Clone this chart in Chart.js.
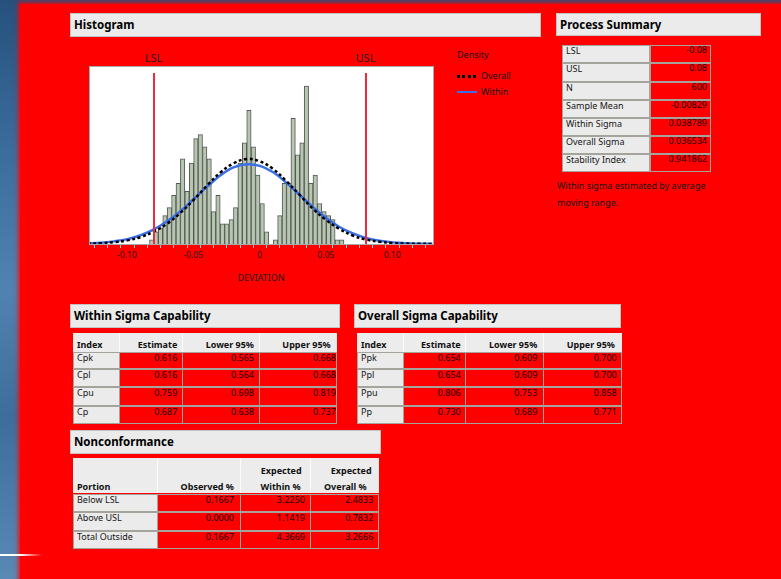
<!DOCTYPE html>
<html>
<head>
<meta charset="utf-8">
<title>Process Capability</title>
<script src="https://cdn.jsdelivr.net/npm/chart.js@4.4.1/dist/chart.umd.min.js"></script>
<style>
  * { box-sizing: border-box; }
  body {
    margin: 0; width: 781px; height: 579px; overflow: hidden; position: relative;
    font-family: "Noto Sans", sans-serif; color: #111;
    background: linear-gradient(180deg, #27507d 0%, #3b6b9b 25%, #5282b1 50%, #3f6d9b 72%, #5a89b6 100%);
  }
  #sheet { position: absolute; left: 20px; top: 4px; width: 770px; height: 580px; background: #ff0000;
           box-shadow: 0 0 4px 2px rgba(255, 0, 0, .8); }
  #flash { position: absolute; left: 0; top: 554px; width: 42px; height: 2px;
           background: linear-gradient(90deg, #fff 0%, #fff 50%, rgba(255,255,255,0) 100%); }
  .abs { position: absolute; }
  .outline { background: #ebebeb; border: 1px solid #c3c3c3; font-weight: bold; font-size: 11.5px;
             line-height: 21px; padding-left: 3px; color: #000; white-space: nowrap; }
  .lab { background: #ebebeb; border: 1px solid #a4a49c; }
  .val { border: 1px solid #a4a49c; }
  .txt { font-size: 9px; line-height: 10px; white-space: nowrap; color: #151515; }
  .num { font-size: 9px; line-height: 10px; white-space: nowrap; color: #140000; text-align: right; }
  .hbg { background: #ececec; }
  .sep { background: #fbfbfb; }
  .ht { font-size: 9px; font-weight: bold; line-height: 10px; white-space: nowrap; color: #111; }
  #histBox { position: absolute; left: 80px; top: 45px; width: 363px; height: 239px; }
</style>
</head>
<body>
<div id="sheet"></div>
<div id="flash"></div>
<div id="histBox"><canvas id="hist"></canvas></div>

<script>
// histogram of DEVIATION, bins of 0.01/3 starting just below LSL
const binWidth = 0.01 / 3;
const binStart = -0.08 - binWidth;
const binCounts = [1, 3, 4, 7, 9, 12, 15, 21, 13, 20, 26, 27, 24, 21, 8, 12, 5, 5, 6, 9, 20, 25,
                   33, 24, 17, 10, 3, 0, 1, 7, 15, 15, 31, 22, 25, 39, 15, 17, 10, 8, 7, 6, 1, 1];

// fitted densities, scaled to bin counts
const curveX = [-0.13, -0.12, -0.11, -0.10, -0.09, -0.08, -0.07, -0.06, -0.05, -0.04, -0.03, -0.02, -0.01,
                0, 0.01, 0.02, 0.03, 0.04, 0.05, 0.06, 0.07, 0.08, 0.09, 0.10, 0.11, 0.12, 0.13];
const overallDensity = [0.08, 0.2, 0.45, 0.9, 1.7, 3.1, 5.0, 7.7, 10.9, 14.4, 17.6, 19.9, 21.0,
                        20.4, 18.5, 15.5, 12.1, 8.7, 5.9, 3.7, 2.1, 1.1, 0.57, 0.26, 0.11, 0.05, 0.02];
const withinDensity = [0.15, 0.3, 0.65, 1.2, 2.15, 3.6, 5.6, 8.1, 11.1, 14.1, 16.9, 18.9, 19.7,
                       19.3, 17.7, 15.1, 12.1, 9.1, 6.4, 4.2, 2.6, 1.5, 0.8, 0.4, 0.2, 0.08, 0.04];

const specNames = ['LSL', 'USL'];
const specValues = [-0.08, 0.08];
const xMin = -0.1282, xMax = 0.1305;
const legendNames = ['Overall', 'Within'];

// Process Summary
const summaryLabels = ['LSL', 'USL', 'N', 'Sample Mean', 'Within Sigma', 'Overall Sigma', 'Stability Index'];
const summaryValues = ['-0.08', '0.08', '600', '-0.00829', '0.038789', '0.036534', '0.941862'];

// capability tables
const capHeaders = ['Index', 'Estimate', 'Lower 95%', 'Upper 95%'];
const withinIndex = ['Cpk', 'Cpl', 'Cpu', 'Cp'];
const withinEstimate = ['0.616', '0.616', '0.759', '0.687'];
const withinLower = ['0.565', '0.564', '0.698', '0.638'];
const withinUpper = ['0.668', '0.668', '0.819', '0.737'];
const overallIndex = ['Ppk', 'Ppl', 'Ppu', 'Pp'];
const overallEstimate = ['0.654', '0.654', '0.806', '0.730'];
const overallLower = ['0.609', '0.609', '0.753', '0.689'];
const overallUpper = ['0.700', '0.700', '0.858', '0.771'];

// Nonconformance
const portions = ['Below LSL', 'Above USL', 'Total Outside'];
const observedPct = ['0.1667', '0.0000', '0.1667'];
const expWithinPct = ['3.2250', '1.1419', '4.3669'];
const expOverallPct = ['2.4833', '0.7832', '3.2666'];

function put(cls, x, y, w, h, text) {
  const d = document.createElement('div');
  d.className = 'abs ' + cls;
  d.style.left = x + 'px';
  d.style.top = y + 'px';
  if (w != null) d.style.width = w + 'px';
  if (h != null) d.style.height = h + 'px';
  if (text != null) d.textContent = text;
  document.body.appendChild(d);
  return d;
}
// right-aligned text ending at x
function putRight(cls, xRight, y, text) {
  const d = put(cls, xRight - 80, y, 80, null, text);
  d.style.textAlign = 'right';
  return d;
}

// outline headers
put('outline', 70, 13, 471, 24, 'Histogram');
put('outline', 556, 13, 205, 23, 'Process Summary');
put('outline', 70, 304, 270, 24, 'Within Sigma Capability');
put('outline', 354, 304, 267, 24, 'Overall Sigma Capability');
put('outline', 70, 430, 311, 24, 'Nonconformance');

// legend
put('txt', 457, 50, null, null, 'Density');
const dots = put('', 457, 75, 20, 3);
dots.style.background = 'repeating-linear-gradient(90deg,#000 0 3px,transparent 3px 5.3px)';
const solid = put('', 457, 90.5, 20, 2.5);
solid.style.background = '#3a6fe6';
put('txt', 481, 71, null, null, legendNames[0]);
put('txt', 481, 86.5, null, null, legendNames[1]);

// process summary table
const psTops = [45, 63, 82, 100, 118, 136, 154, 172];
summaryLabels.forEach((lab, i) => {
  const y = psTops[i], h = psTops[i + 1] - y;
  put('lab', 562, y, 88, h);
  put('val', 650, y, 61, h);
  put('txt', 566, y + 1, null, null, lab);
  putRight('num', 707, y - 0.5, summaryValues[i]);
});
put('txt', 557, 181, null, null, 'Within sigma estimated by average');
put('txt', 557, 197.5, null, null, 'moving range.');

// capability table builder
function capTable(cols, headRights, valRights, index, est, low, up) {
  const rowTops = [352, 369, 387, 406, 424];
  put('hbg', cols[0], 333, cols[4] - cols[0], 19);
  for (let c = 1; c < 4; c++) put('sep', cols[c], 333, 1, 19);
  put('ht', cols[0] + 4, 340, null, null, capHeaders[0]);
  for (let c = 1; c < 4; c++) putRight('ht', headRights[c - 1], 340, capHeaders[c]);
  const columns = [est, low, up];
  index.forEach((name, r) => {
    const y = rowTops[r], h = rowTops[r + 1] - y;
    put('lab', cols[0], y, cols[1] - cols[0] + 1, h);
    for (let c = 1; c < 4; c++) put('val', cols[c], y, cols[c + 1] - cols[c] + (c < 3 ? 1 : 0), h);
    put('txt', cols[0] + 4, y + 1, null, null, name);
    columns.forEach((arr, c) => putRight('num', valRights[c], y + 0.5, arr[r]));
  });
}
capTable([73, 119, 182, 259, 337], [177.3, 254, 330.7], [177.3, 254, 336],
         withinIndex, withinEstimate, withinLower, withinUpper);
capTable([357, 403, 465, 543, 622], [460.7, 537.3, 615], [460.7, 537.3, 616.7],
         overallIndex, overallEstimate, overallLower, overallUpper);

// nonconformance table
(function () {
  const cols = [73, 157, 240, 310, 379];
  const rowTops = [494, 512, 531, 549];
  put('hbg', 73, 458, 306, 35);
  for (let c = 1; c < 4; c++) put('sep', cols[c], 458, 1, 35);
  put('ht', 77, 482, null, null, 'Portion');
  putRight('ht', 234, 482, 'Observed %');
  putRight('ht', 301.7, 466, 'Expected');
  putRight('ht', 300.7, 482, 'Within %');
  putRight('ht', 371.7, 466, 'Expected');
  putRight('ht', 366.7, 482, 'Overall %');
  const columns = [observedPct, expWithinPct, expOverallPct];
  const rights = [234, 305, 373.3];
  portions.forEach((name, r) => {
    const y = rowTops[r], h = rowTops[r + 1] - y;
    put('lab', cols[0], y, cols[1] - cols[0] + 1, h);
    for (let c = 1; c < 4; c++) put('val', cols[c], y, cols[c + 1] - cols[c] + (c < 3 ? 1 : 0), h);
    put('txt', 77, y + 1, null, null, name);
    columns.forEach((arr, c) => putRight('num', rights[c], y + 0.5, arr[r]));
  });
})();

// white plot frame, spec limit lines and their labels
const plotDecor = {
  id: 'plotDecor',
  beforeDatasetsDraw(chart) {
    const { ctx, chartArea: a } = chart;
    ctx.save();
    ctx.fillStyle = '#ffffff';
    ctx.fillRect(a.left, a.top, a.right - a.left, a.bottom - a.top);
    ctx.restore();
  },
  afterDatasetsDraw(chart) {
    const { ctx, chartArea: a, scales: { x } } = chart;
    ctx.save();
    specValues.forEach((v, i) => {
      const px = Math.round(x.getPixelForValue(v));
      ctx.strokeStyle = '#ee2a3c';
      ctx.lineWidth = 2;
      ctx.beginPath();
      ctx.moveTo(px, a.top + 6);
      ctx.lineTo(px, a.bottom);
      ctx.stroke();
      ctx.fillStyle = '#1a1a1a';
      ctx.font = '11px "Noto Sans"';
      ctx.textAlign = 'center';
      ctx.textBaseline = 'middle';
      ctx.fillText(specNames[i], px, a.top - 8);
    });
    ctx.strokeStyle = '#a9a9a9';
    ctx.lineWidth = 1;
    ctx.strokeRect(Math.round(a.left) - 0.5, Math.round(a.top) - 0.5,
                   Math.round(a.right - a.left) + 1, Math.round(a.bottom - a.top) + 1);
    ctx.restore();
  }
};

const bins = binCounts.map((c, i) => ({ x: binStart + (i + 0.5) * binWidth, y: c }));

new Chart(document.getElementById('hist'), {
  type: 'bar',
  data: {
    datasets: [
      {
        type: 'line', label: legendNames[0],
        data: curveX.map((x, i) => ({ x, y: overallDensity[i] })),
        borderColor: '#000', borderWidth: 2.5, borderDash: [3, 2.6],
        pointRadius: 0, tension: 0.4, order: 0
      },
      {
        type: 'line', label: legendNames[1],
        data: curveX.map((x, i) => ({ x, y: withinDensity[i] })),
        borderColor: '#3a6fe6', borderWidth: 2.5,
        pointRadius: 0, tension: 0.4, order: 1
      },
      {
        type: 'bar', label: 'DEVIATION', data: bins,
        backgroundColor: '#b7c5b2', borderColor: '#525a51', borderWidth: 1,
        barPercentage: 1, categoryPercentage: 1, order: 2
      }
    ]
  },
  options: {
    responsive: true,
    maintainAspectRatio: false,
    animation: false,
    layout: { padding: { left: 10, right: 10, top: 22, bottom: 0 } },
    plugins: { legend: { display: false }, tooltip: { enabled: false } },
    scales: {
      x: {
        type: 'linear', min: xMin, max: xMax, offset: false,
        grid: { drawOnChartArea: false, drawTicks: true, tickLength: 4, color: 'rgba(255,255,255,0.75)' },
        border: { display: false },
        ticks: {
          stepSize: 0.01, includeBounds: false, autoSkip: false, maxRotation: 0, padding: 2,
          color: '#1a1a1a', font: { family: 'Noto Sans', size: 8.5 },
          callback: (v) => {
            const r = Math.round(v * 100);
            if (r % 5 !== 0) return '';
            return r === 0 ? '0' : (r / 100).toFixed(2);
          }
        },
        title: { display: true, text: 'DEVIATION', color: '#1a1a1a',
                 font: { family: 'Noto Sans', size: 9 }, padding: { top: 0, bottom: 0 } },
        afterFit: (scale) => { scale.height = 40; }
      },
      y: { display: false, min: 0, max: 43.7 }
    }
  },
  plugins: [plotDecor]
});
</script>
</body>
</html>
